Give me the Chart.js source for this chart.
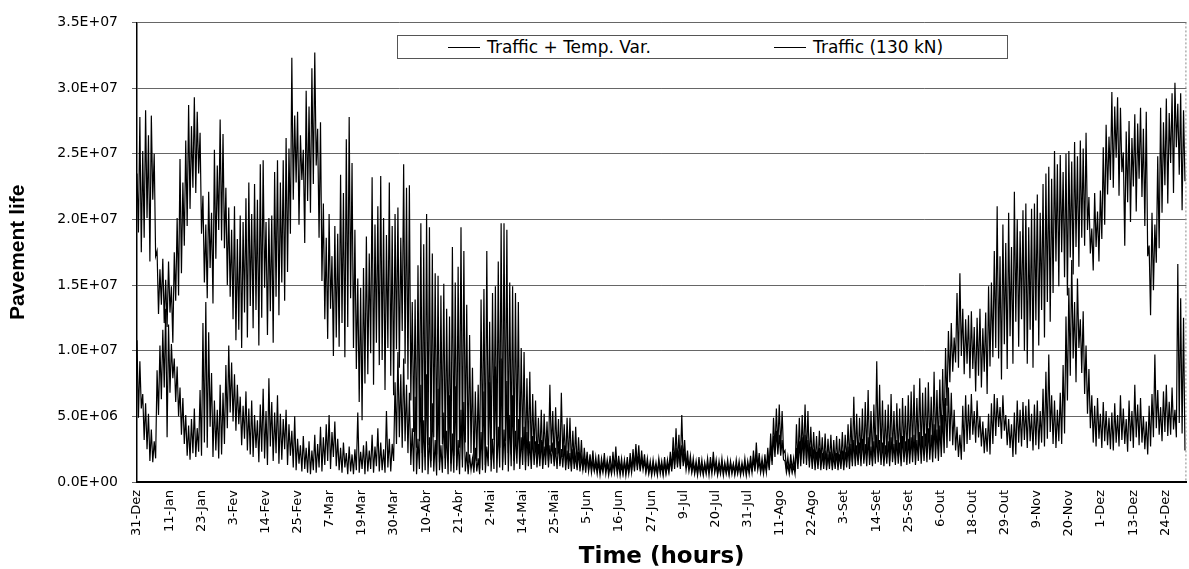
<!DOCTYPE html>
<html>
<head>
<meta charset="utf-8">
<script src="https://cdn.jsdelivr.net/npm/chart.js@4.4.1/dist/chart.umd.min.js"></script>
<style>
  body { margin: 0; background: #fff; }
  #wrap { position: relative; width: 1189px; height: 569px; }
  #legend { position: absolute; left: 397px; top: 35px; width: 611px; height: 24px; box-sizing: border-box;
            border: 1px solid #555; background: #fff; font-family: "DejaVu Sans", sans-serif; font-size: 17px; color: #000; }
  #legend .item { position: absolute; top: 0; height: 100%; display: flex; align-items: center; white-space: nowrap; }
  #legend .swatch { display: inline-block; width: 32px; height: 0; border-top: 1px solid #000; margin-right: 7px; }
</style>
</head>
<body>
<div id="wrap">
  <canvas id="myChart"></canvas>
  <div id="legend"></div>
</div>
<script>
// hourly simulation shown as one high / one low value per day (12 h apart), values in millions
let stepHours = 12
let labelStepHours = 269
let yearHours = 8784

let tickLabels = ['31-Dez', '11-Jan', '23-Jan', '3-Fev', '14-Fev', '25-Fev', '7-Mar', '19-Mar', '30-Mar',
  '10-Abr', '21-Abr', '2-Mai', '14-Mai', '25-Mai', '5-Jun', '16-Jun', '27-Jun', '9-Jul', '20-Jul', '31-Jul',
  '11-Ago', '22-Ago', '3-Set', '14-Set', '25-Set', '6-Out', '18-Out', '29-Out', '9-Nov', '20-Nov', '1-Dez',
  '13-Dez', '24-Dez']

let seriesLabels = ['Traffic + Temp. Var.', 'Traffic (130 kN)']

// Traffic + Temp. Var. (lower curve in winter)
let tempVar = [
  10.8,4.9, 9.2,5.6, 6.7,3.2, 6.0,2.5, 5.2,1.6, 4.0,1.5, 3.1,1.8, 8.5,5.1, 10.4,6.3, 11.6,7.2,
  13.2,3.4, 12.0,6.8, 10.5,7.9, 9.4,6.1, 8.8,5.0, 7.2,3.6, 6.4,2.9, 5.1,2.0, 4.3,1.7, 4.8,2.2,
  5.6,1.9, 4.1,2.3, 7.0,2.0, 12.1,3.0, 13.7,2.6, 11.4,4.2, 8.3,1.9, 6.2,2.4, 5.5,1.8, 7.4,2.1,
  6.8,2.9, 8.9,4.1, 10.4,5.3, 9.1,4.6, 8.2,3.9, 7.4,4.4, 6.5,2.8, 5.8,3.3, 6.9,2.4, 5.6,2.1,
  6.2,1.9, 5.1,2.6, 4.7,1.5, 5.9,2.3, 7.1,1.8, 5.4,1.3, 7.9,2.7, 6.1,1.6, 5.3,2.2, 6.6,1.4,
  5.2,1.7, 4.8,2.5, 5.5,1.3, 4.4,2.0, 3.9,1.1, 5.0,0.9, 3.3,1.4, 2.8,0.8, 3.5,1.0, 2.6,0.7,
  3.1,0.6, 2.4,0.9, 3.6,0.7, 2.9,1.1, 4.2,0.8, 3.4,1.3, 4.4,1.6, 5.1,1.0, 3.8,1.9, 4.6,1.2,
  3.3,0.9, 2.6,0.7, 3.0,1.1, 2.2,0.6, 2.7,0.8, 2.1,0.6, 2.5,0.9, 5.3,0.7, 2.3,1.0, 2.8,0.6,
  3.1,0.8, 2.4,1.0, 3.6,0.7, 2.7,1.2, 4.1,0.8, 3.0,0.9, 2.5,0.7, 5.4,1.1, 3.3,0.8, 2.9,1.6,
  7.6,2.9, 9.9,3.4, 8.2,2.6, 9.4,3.1, 7.4,2.2, 6.8,1.3, 4.1,0.8, 6.5,0.6, 3.3,1.0, 7.4,0.7,
  4.7,0.9, 8.2,0.6, 3.4,1.1, 6.0,0.8, 3.2,0.5, 7.1,0.9, 2.8,0.7, 5.3,1.0, 3.9,0.6, 6.6,0.8,
  3.7,0.7, 7.3,0.9, 3.2,0.6, 5.5,1.1, 6.1,0.8, 2.3,0.6, 2.1,0.9, 1.8,0.7, 2.6,0.8, 1.8,0.6,
  3.8,0.9, 6.9,0.7, 2.7,1.2, 7.6,0.8, 3.3,1.0, 8.8,0.7, 4.2,1.1, 9.4,0.9, 4.0,1.3, 7.7,0.8,
  5.1,1.2, 6.6,0.9, 3.9,1.4, 4.8,1.0, 3.4,1.3, 4.2,0.9, 3.8,1.2, 3.1,1.0, 3.5,1.3, 3.1,1.1,
  2.9,1.2, 3.2,1.0, 2.7,1.3, 3.4,1.1, 2.8,1.4, 3.0,1.2, 2.6,1.0, 3.1,1.2, 2.5,1.1, 2.8,0.9,
  2.4,1.0, 2.2,0.8, 2.5,1.0, 2.0,0.9, 2.3,0.8, 1.9,0.9, 1.8,0.7, 2.0,0.8, 1.7,0.7, 1.6,0.8,
  1.4,0.6, 1.5,0.5, 1.3,0.7, 1.6,0.6, 1.4,0.5, 1.2,0.6, 1.5,0.7, 1.7,0.6, 1.4,0.5, 1.3,0.6,
  1.5,0.5, 1.4,0.6, 1.6,0.7, 1.9,0.8, 2.2,0.9, 2.0,0.8, 1.8,0.9, 1.6,0.7, 1.4,0.6, 1.3,0.5,
  1.4,0.6, 1.2,0.5, 1.5,0.6, 1.3,0.5, 1.4,0.6, 1.3,0.7, 1.7,0.8, 2.3,1.0, 2.6,1.1, 2.4,1.0,
  2.8,1.2, 2.1,0.9, 1.7,0.8, 1.5,0.7, 1.4,0.6, 1.3,0.5, 1.4,0.6, 1.2,0.5, 1.3,0.6, 1.4,0.5,
  1.5,0.6, 1.7,0.7, 1.3,0.5, 1.2,0.6, 1.4,0.5, 1.3,0.6, 1.2,0.5, 1.4,0.6, 1.3,0.5, 1.2,0.6,
  1.3,0.5, 1.2,0.6, 1.4,0.5, 1.3,0.6, 1.5,0.7, 1.8,0.8, 2.1,0.9, 1.6,0.7, 1.4,0.6, 1.5,0.7,
  2.0,0.9, 2.8,1.3, 3.5,1.9, 3.9,2.1, 3.6,2.0, 3.2,1.7, 1.6,0.7, 1.3,0.6, 1.4,0.7, 1.2,0.6,
  2.6,1.0, 3.1,1.2, 3.4,1.4, 3.6,1.3, 3.2,1.1, 2.7,1.0, 2.5,0.9, 2.3,1.0, 2.6,0.9, 2.2,1.0,
  2.4,0.9, 2.1,1.0, 2.3,0.9, 2.0,1.0, 2.2,0.9, 2.1,1.0, 2.4,0.9, 2.3,1.1, 2.7,1.0, 2.9,1.2,
  3.2,1.2, 2.8,1.3, 3.0,1.2, 3.3,1.4, 2.9,1.2, 3.4,1.3, 2.7,1.2, 3.1,1.4, 3.6,1.5, 3.2,1.3,
  3.0,1.2, 2.8,1.4, 3.1,1.2, 3.4,1.5, 2.9,1.3, 3.2,1.4, 3.0,1.2, 3.5,1.5, 3.1,1.3, 3.3,1.4,
  3.4,1.5, 3.6,1.3, 3.2,1.6, 3.8,1.4, 3.5,1.6, 3.7,1.5, 4.1,1.7, 3.6,1.5, 4.4,1.8, 4.0,1.6,
  4.3,1.9, 5.1,2.2, 6.4,2.6, 7.2,3.1, 6.8,2.8, 5.5,2.4, 4.2,1.9, 3.6,1.7, 5.8,2.3, 6.6,2.9,
  5.9,3.2, 6.7,3.6, 5.4,3.0, 6.2,3.4, 5.0,2.7, 4.6,2.2, 4.1,2.3, 5.2,2.1, 6.0,2.9, 6.7,3.5,
  6.4,4.2, 5.7,3.3, 6.6,3.9, 5.1,2.8, 4.8,2.6, 4.4,1.9, 5.3,2.1, 6.2,3.0, 5.5,2.7, 6.1,3.2,
  5.8,2.6, 6.3,3.1, 5.2,2.4, 5.9,2.8, 6.2,2.5, 5.4,3.0, 7.1,2.7, 8.4,3.3, 9.7,3.8, 6.6,2.9,
  6.2,2.6, 5.5,3.1, 6.8,2.9, 8.9,3.7, 12.6,6.2, 14.8,8.1, 16.9,9.4, 13.7,7.6, 15.5,10.2, 12.4,8.3,
  13.0,6.7, 10.4,5.2, 8.6,4.1, 6.6,3.0, 5.8,2.7, 6.4,3.3, 5.2,2.6, 6.1,3.1, 5.4,2.8, 4.9,2.5,
  5.3,2.4, 6.0,3.0, 5.1,2.7, 6.6,3.2, 5.6,2.9, 4.8,2.3, 6.2,3.1, 5.4,2.6, 7.4,3.4, 5.9,2.8,
  6.4,3.0, 5.0,2.5, 4.6,2.1, 5.8,2.7, 6.7,3.4, 9.7,4.1, 7.0,3.6, 5.7,3.1, 6.9,3.8, 7.4,3.5,
  6.1,3.6, 7.2,4.0, 5.5,3.4, 16.6,4.5, 14.0,3.7, 12.5,2.4
]

// Traffic (130 kN) (upper curve in winter)
let traffic = [
  23.5,19.0, 27.8,17.5, 25.2,18.6, 28.3,20.1, 26.4,16.8, 27.9,21.5, 25.0,17.2, 17.6,12.8, 16.2,13.5, 17.0,12.1,
  15.4,11.8, 16.8,12.9, 14.9,10.6, 17.5,13.8, 20.1,14.2, 24.6,15.9, 22.8,18.0, 26.0,19.5, 28.7,20.8, 27.1,22.4,
  29.3,22.0, 28.2,23.5, 26.6,18.9, 21.8,15.2, 19.6,14.0, 22.1,16.3, 20.5,13.6, 25.3,17.0, 24.1,19.2, 27.6,18.4,
  26.5,17.8, 22.4,15.0, 20.9,14.1, 19.2,12.4, 21.0,10.8, 18.5,11.6, 20.3,10.2, 19.8,12.9, 21.6,11.0, 22.8,13.4,
  20.4,11.7, 22.7,13.1, 21.5,10.4, 24.2,12.5, 24.5,14.8, 19.8,11.2, 20.1,13.0, 20.3,10.6, 23.6,14.1, 24.5,12.7,
  22.8,15.2, 24.5,13.8, 26.2,16.0, 25.4,18.9, 32.3,21.5, 27.9,22.8, 28.2,19.6, 26.4,23.0, 25.3,18.2, 29.8,21.4,
  28.6,20.5, 31.5,22.7, 32.7,24.1, 26.9,18.6, 27.4,15.3, 21.2,12.4, 18.6,10.9, 20.4,13.2, 17.2,9.6, 19.5,11.0,
  18.9,10.3, 23.4,12.1, 22.0,9.5, 26.1,11.8, 27.8,14.0, 24.3,10.2, 19.2,8.6, 15.5,6.1, 14.8,4.7, 16.3,7.5,
  18.7,8.2, 17.4,9.8, 23.2,7.4, 19.6,10.6, 21.0,8.9, 23.3,9.3, 20.1,7.0, 18.8,10.2, 22.8,8.1, 19.5,6.6,
  20.4,10.1, 20.9,8.7, 18.6,11.5, 24.2,9.0, 22.4,7.8, 22.6,6.2, 13.7,3.8, 13.9,2.6, 16.5,3.1, 19.7,2.2,
  18.1,1.9, 20.4,2.8, 19.4,1.6, 17.4,3.4, 15.9,2.1, 15.7,1.5, 14.2,2.9, 15.1,1.8, 13.2,2.4, 12.6,1.4,
  17.9,2.0, 15.2,1.2, 16.4,2.6, 19.4,1.7, 17.6,3.0, 13.5,1.4, 11.2,2.2, 8.7,1.1, 6.9,1.6, 7.4,1.0,
  13.9,2.4, 14.7,1.3, 17.6,2.8, 12.2,1.7, 14.4,3.2, 14.9,2.0, 16.8,2.6, 19.7,1.5, 19.7,3.1, 19.2,2.2,
  15.2,2.1, 14.9,1.6, 14.4,2.6, 13.7,1.9, 10.2,2.4, 9.9,1.5, 7.9,2.0, 8.4,1.7, 6.7,2.2, 6.2,1.4,
  4.9,1.8, 5.5,1.3, 5.2,2.0, 4.6,1.6, 7.4,2.3, 5.4,1.5, 5.7,2.1, 4.8,1.4, 6.8,1.9, 4.4,1.3,
  4.9,1.5, 4.9,1.2, 3.9,1.4, 4.2,1.1, 3.4,1.3, 3.2,0.9, 2.6,1.2, 2.3,0.9, 2.1,1.0, 2.4,0.8,
  1.9,0.9, 2.1,0.7, 1.8,1.0, 2.2,0.8, 1.7,0.9, 2.0,0.7, 2.3,1.0, 2.7,0.8, 2.0,0.9, 1.8,0.7,
  1.7,0.8, 1.9,0.7, 2.2,0.9, 2.5,1.1, 2.9,1.2, 2.8,1.0, 2.4,1.1, 2.1,0.9, 1.8,0.8, 1.6,0.7,
  1.7,0.8, 1.5,0.7, 1.8,0.9, 1.6,0.7, 1.9,0.8, 1.7,0.9, 2.3,1.0, 3.4,1.3, 4.1,1.4, 3.6,1.2,
  5.1,1.5, 3.2,1.1, 2.4,1.0, 2.0,0.9, 1.8,0.8, 1.6,0.7, 1.9,0.8, 1.7,0.7, 1.5,0.8, 1.8,0.7,
  1.9,0.8, 2.3,0.9, 1.7,0.7, 1.6,0.8, 1.8,0.7, 1.5,0.8, 1.7,0.7, 1.6,0.8, 1.4,0.7, 1.7,0.8,
  1.6,0.7, 1.5,0.8, 1.8,0.7, 1.6,0.9, 2.0,0.8, 2.4,1.0, 3.0,1.1, 2.2,0.9, 1.8,0.8, 2.1,0.9,
  2.6,1.1, 3.7,1.6, 4.9,2.4, 5.6,2.6, 5.9,2.5, 5.4,2.2, 2.4,1.0, 1.9,0.8, 2.1,0.9, 1.8,0.8,
  4.4,1.4, 4.9,1.7, 5.1,2.0, 5.9,1.8, 5.4,1.6, 4.2,1.5, 3.8,1.4, 3.5,1.3, 3.9,1.5, 3.4,1.3,
  3.7,1.2, 3.3,1.4, 3.6,1.2, 3.2,1.3, 3.5,1.2, 3.3,1.4, 3.8,1.3, 3.6,1.5, 4.4,1.6, 4.9,1.5,
  6.5,1.8, 5.2,1.6, 4.9,1.9, 5.6,1.7, 6.1,2.0, 7.0,1.8, 5.4,1.6, 5.9,1.9, 9.2,2.2, 7.4,2.0,
  6.2,1.7, 5.5,1.9, 5.9,1.6, 6.7,2.1, 5.4,1.8, 6.0,2.0, 5.6,1.7, 6.4,2.2, 5.8,1.9, 6.6,2.1,
  6.9,2.3, 7.4,2.0, 6.4,2.4, 7.9,2.1, 6.8,2.5, 7.2,2.2, 7.6,2.6, 6.5,2.3, 8.4,2.8, 7.0,2.5,
  7.8,2.9, 8.6,3.4, 10.2,5.8, 11.5,7.6, 12.1,8.4, 11.0,9.1, 14.4,8.7, 15.9,9.6, 13.2,8.2, 12.4,9.0,
  12.7,7.9, 13.0,8.6, 11.8,6.9, 12.5,8.1, 13.2,7.2, 11.7,8.4, 12.9,6.7, 14.9,8.8, 15.2,9.5, 17.6,10.2,
  21.0,9.4, 17.2,7.8, 19.6,10.5, 18.2,8.6, 20.5,11.1, 17.9,9.0, 22.1,12.2, 20.0,10.3, 19.1,12.4, 20.7,10.0,
  21.2,9.0, 19.4,11.6, 20.8,8.7, 21.2,12.3, 21.9,10.4, 20.5,13.1, 22.7,11.0, 23.5,13.7, 24.0,12.2, 23.1,14.4,
  25.2,16.8, 24.2,14.9, 24.9,17.5, 23.6,15.6, 25.0,14.2, 25.2,17.1, 24.4,15.8, 25.9,17.9, 24.8,16.4, 26.0,18.6,
  25.4,18.0, 26.6,19.2, 21.7,17.4, 19.3,16.1, 22.0,17.9, 20.6,16.8, 22.2,18.5, 25.5,19.6, 27.2,21.9, 26.3,23.0,
  29.7,22.4, 28.6,24.7, 29.3,21.8, 28.5,23.6, 25.1,18.0, 26.7,21.3, 27.5,19.8, 26.2,22.5, 28.0,20.6, 27.3,23.1,
  28.5,21.7, 26.9,19.5, 28.2,17.2, 18.0,12.7, 20.5,14.6, 19.6,16.7, 24.8,17.8, 28.5,20.5, 27.4,22.6, 29.2,21.2,
  28.1,24.3, 29.6,22.0, 30.4,25.5, 28.8,23.4, 29.6,20.7, 28.3,22.9
]

function toPoints(vals) {
  return vals.map((v, i) => {
    return { x: i * stepHours, y: v * 1e6 }
  })
}

// 3.5E+07 style labels, like the spreadsheet
function sciLabel(v) {
  if (v === 0) return '0.0E+00'
  let parts = v.toExponential(1).split('e')
  let exp = parseInt(parts[1], 10)
  return parts[0] + 'E' + (exp < 0 ? '-' : '+') + String(Math.abs(exp)).padStart(2, '0')
}

// legend box sits inside the plot, drawn as html
let legendLeft = [50, 376]
let legendBox = document.getElementById('legend')
seriesLabels.forEach((label, i) => {
  let item = document.createElement('div')
  item.className = 'item'
  item.style.left = legendLeft[i] + 'px'
  item.innerHTML = '<span class="swatch"></span><span></span>'
  item.lastChild.textContent = label
  legendBox.appendChild(item)
})

// dotted right edge of the plot frame
const frameRight = {
  id: 'frameRight',
  afterDraw(chart) {
    let a = chart.chartArea
    let ctx = chart.ctx
    ctx.save()
    ctx.strokeStyle = '#888'
    ctx.lineWidth = 1
    ctx.setLineDash([2, 2])
    ctx.beginPath()
    ctx.moveTo(a.right - 0.5, a.top)
    ctx.lineTo(a.right - 0.5, a.bottom)
    ctx.stroke()
    ctx.restore()
  }
}

var ctx = document.getElementById('myChart').getContext('2d')

var lifeChart = new Chart(ctx, {
  type: 'line',
  data: {
    datasets: [{
      label: seriesLabels[0],
      data: toPoints(tempVar),
      borderColor: '#000',
      borderWidth: 1.2,
      pointRadius: 0
    }, {
      label: seriesLabels[1],
      data: toPoints(traffic),
      borderColor: '#000',
      borderWidth: 1.2,
      pointRadius: 0
    }]
  },
  options: {
    responsive: true,
    maintainAspectRatio: false,
    animation: false,
    layout: { padding: { top: 16, right: 1, left: 0, bottom: 0 } },
    scales: {
      x: {
        type: 'linear',
        min: 0,
        max: yearHours,
        afterFit: (scale) => { scale.height = 87 },
        afterBuildTicks: (scale) => {
          scale.ticks = tickLabels.map((l, k) => ({ value: k * labelStepHours }))
        },
        grid: { display: false, drawTicks: false },
        border: { display: true, color: '#000', width: 2 },
        ticks: {
          autoSkip: false,
          minRotation: 90,
          maxRotation: 90,
          padding: 8,
          color: '#000',
          font: { family: '"DejaVu Sans", sans-serif', size: 13 },
          callback: (value, index) => tickLabels[index]
        },
        title: {
          display: true,
          text: 'Time (hours)',
          color: '#000',
          padding: { top: 0, bottom: 0 },
          font: { family: '"DejaVu Sans", sans-serif', size: 23, weight: 'bold', lineHeight: 1 }
        }
      },
      y: {
        min: 0,
        max: 3.5e7,
        afterFit: (scale) => { scale.width = 137 },
        grid: { color: '#666', lineWidth: 1, tickLength: 5 },
        border: { display: true, color: '#000', width: 1.5 },
        ticks: {
          stepSize: 5e6,
          padding: 14,
          color: '#000',
          font: { family: '"DejaVu Sans", sans-serif', size: 14 },
          callback: (value) => sciLabel(value)
        },
        title: {
          display: true,
          text: 'Pavement life',
          color: '#000',
          padding: { top: 6, bottom: 0 },
          font: { family: 'Arial, "Liberation Sans", sans-serif', size: 21, weight: 'bold' }
        }
      }
    },
    plugins: {
      legend: { display: false },
      tooltip: { enabled: false }
    }
  },
  plugins: [frameRight]
})
</script>
</body>
</html>
